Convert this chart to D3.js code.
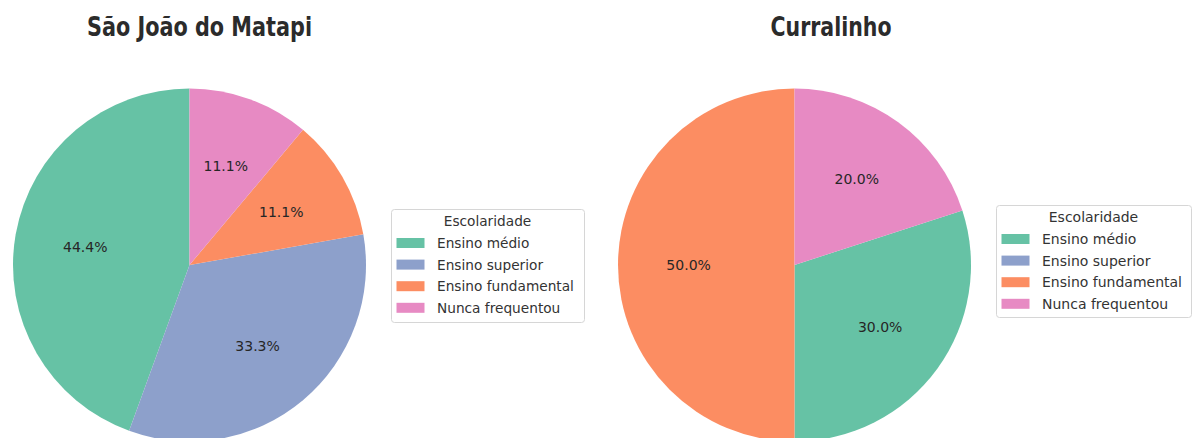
<!DOCTYPE html>
<html>
<head>
<meta charset="utf-8">
<script src="https://cdn.jsdelivr.net/npm/d3@7"></script>
<style>
  body { margin: 0; background: #fff; }
  text { font-family: "DejaVu Sans", sans-serif; }
</style>
</head>
<body>
<div id="chart"></div>
<script>
var svgWidth = 1199;
var svgHeight = 438;

// categories, in legend order
var categories = ["Ensino médio", "Ensino superior", "Ensino fundamental", "Nunca frequentou"];
var colors = ["#66c2a5", "#8da0cb", "#fc8d62", "#e78ac3"];

// counts per category (same order as categories)
var matapiCounts = [4, 3, 1, 1];
var curralinhoCounts = [3, 0, 5, 2];

var legendTitle = "Escolaridade";

var panels = [
  { title: "São João do Matapi", counts: matapiCounts, cx: 189.5, cy: 265, titleX: 199.5, titleLen: 225,
    legend: { x: 391, y: 209, w: 193, h: 113, fs: 13.7 } },
  { title: "Curralinho", counts: curralinhoCounts, cx: 794.5, cy: 265, titleX: 831, titleLen: 121,
    legend: { x: 996, y: 205, w: 195, h: 112, fs: 14 } }
];

var radius = 176.5;

var svg = d3.select("#chart")
  .append("svg")
  .attr("width", svgWidth)
  .attr("height", svgHeight);

var color = d3.scaleOrdinal()
  .domain(categories)
  .range(colors);

// matplotlib-like: start at top, go counterclockwise, biggest slice first
var pie = d3.pie()
  .value(d => d.value)
  .sort((a, b) => b.value - a.value)
  .startAngle(0)
  .endAngle(-2 * Math.PI);

var arc = d3.arc().innerRadius(0).outerRadius(radius);
var labelArc = d3.arc().innerRadius(radius * 0.6).outerRadius(radius * 0.6);

panels.forEach(function(p) {
  var data = categories.map((c, i) => ({ name: c, value: p.counts[i] }));
  var total = d3.sum(data, d => d.value);

  var g = svg.append("g")
    .attr("transform", `translate(${p.cx}, ${p.cy})`);

  var arcs = pie(data).filter(d => d.value > 0);

  g.selectAll("path")
    .data(arcs)
    .enter()
    .append("path")
    .attr("d", arc)
    .attr("fill", d => color(d.data.name));

  g.selectAll("text.pct")
    .data(arcs)
    .enter()
    .append("text")
    .attr("class", "pct")
    .attr("transform", d => `translate(${labelArc.centroid(d)})`)
    .attr("text-anchor", "middle")
    .attr("dy", "0.36em")
    .style("font-size", "14px")
    .style("fill", "#262626")
    .text(d => (d.value / total * 100).toFixed(1) + "%");

  // title
  svg.append("text")
    .attr("x", p.titleX)
    .attr("y", 36)
    .attr("text-anchor", "middle")
    .attr("textLength", p.titleLen)
    .attr("lengthAdjust", "spacingAndGlyphs")
    .style("font-size", "26px")
    .style("font-weight", "bold")
    .style("fill", "#2b2b2b")
    .text(p.title);

  // legend
  var L = p.legend;
  var lg = svg.append("g")
    .attr("transform", `translate(${L.x}, ${L.y})`);

  lg.append("rect")
    .attr("x", 0.5)
    .attr("y", 0.5)
    .attr("width", L.w)
    .attr("height", L.h)
    .attr("rx", 3)
    .attr("fill", "#fff")
    .attr("stroke", "#d6d6d6");

  lg.append("text")
    .attr("x", L.w / 2)
    .attr("y", 17)
    .attr("text-anchor", "middle")
    .style("font-size", L.fs + "px")
    .style("fill", "#333")
    .text(legendTitle);

  var rows = lg.selectAll("g.row")
    .data(categories)
    .enter()
    .append("g")
    .attr("class", "row")
    .attr("transform", (d, i) => `translate(0, ${34 + i * 21.6})`);

  rows.append("rect")
    .attr("x", 5.5)
    .attr("y", -5)
    .attr("width", 28)
    .attr("height", 10)
    .attr("fill", d => color(d));

  rows.append("text")
    .attr("x", 46)
    .attr("dy", "0.36em")
    .style("font-size", L.fs + "px")
    .style("fill", "#333")
    .text(d => d);
});
</script>
</body>
</html>
